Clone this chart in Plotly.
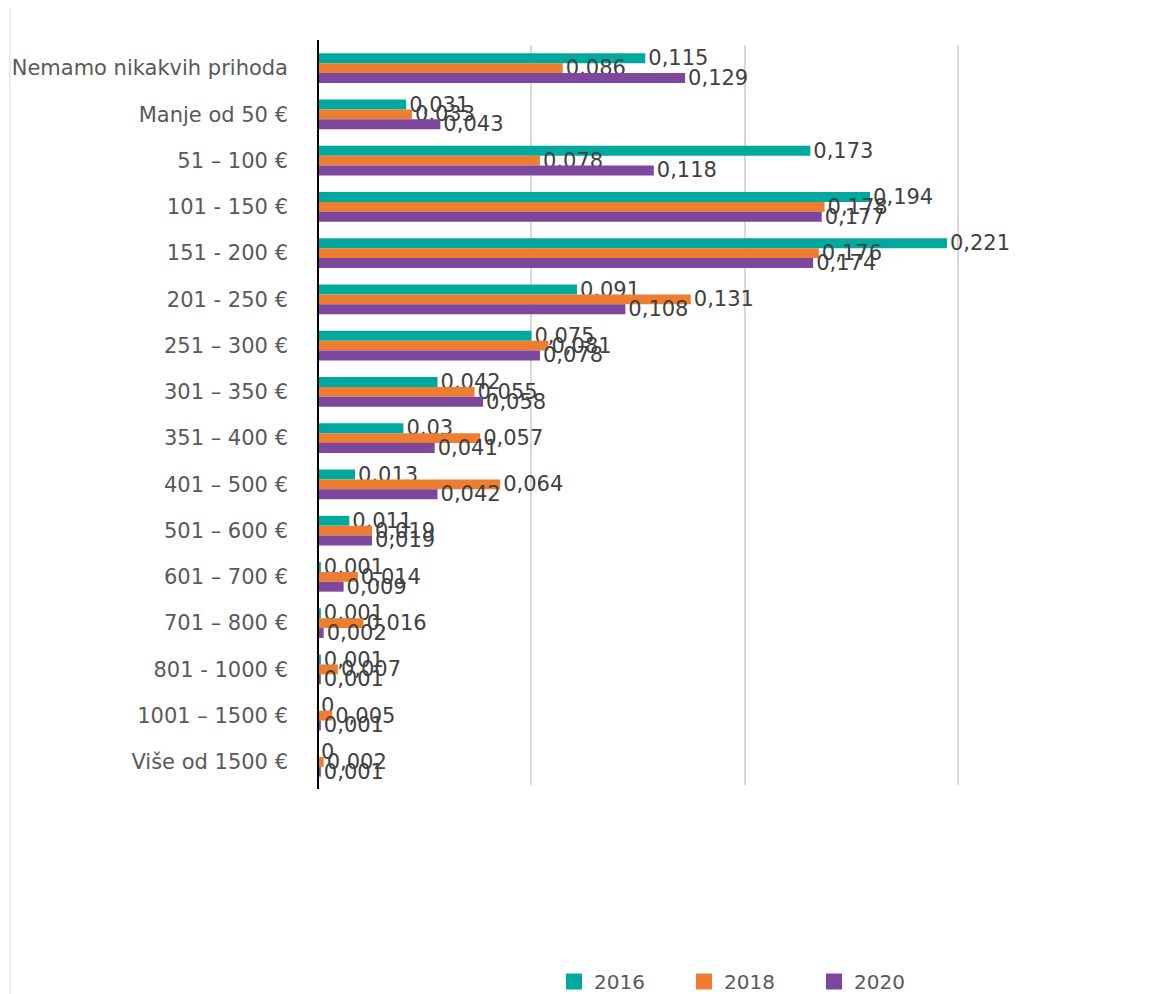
import plotly.graph_objects as go

categories = ["Nemamo nikakvih prihoda", "Manje od 50 €", "51 – 100 €", "101 - 150 €",
              "151 - 200 €", "201 - 250 €", "251 – 300 €", "301 – 350 €", "351 – 400 €",
              "401 – 500 €", "501 – 600 €", "601 – 700 €", "701 – 800 €", "801 - 1000 €",
              "1001 – 1500 €", "Više od 1500 €"]
v2016 = [0.115, 0.031, 0.173, 0.194, 0.221, 0.091, 0.075, 0.042, 0.03, 0.013, 0.011, 0.001, 0.001, 0.001, 0, 0]
v2018 = [0.086, 0.033, 0.078, 0.178, 0.176, 0.131, 0.081, 0.055, 0.057, 0.064, 0.019, 0.014, 0.016, 0.007, 0.005, 0.002]
v2020 = [0.129, 0.043, 0.118, 0.177, 0.174, 0.108, 0.078, 0.058, 0.041, 0.042, 0.019, 0.009, 0.002, 0.001, 0.001, 0.001]
series = [("2016", v2016, "#00A99D"), ("2018", v2018, "#ED7D31"), ("2020", v2020, "#7D479D")]

def fmt(v):
    s = ("%g" % v)
    return s.replace(".", ",")

# page body has an 8px margin; figure coordinates = screen coordinates - 8
W, H = 1152, 986
ml, mt = 310, 37
pw, ph = 683, 740
mr = W - ml - pw
mb = H - mt - ph

fig = go.Figure()
for name, vals, col in series:
    fig.add_trace(go.Bar(
        y=categories, x=vals, name=name, orientation="h",
        marker=dict(color=col, line=dict(width=0)),
        text=[fmt(v) for v in vals], textposition="outside",
        textfont=dict(family="DejaVu Sans", size=21, color="#404040"),
        constraintext="none", cliponaxis=False, showlegend=False,
    ))
# legend entries with larger square swatches
for name, vals, col in series:
    fig.add_trace(go.Scatter(
        x=[None], y=[None], mode="markers", name=name,
        marker=dict(symbol="square", size=16, color=col),
    ))

fig.update_layout(
    width=W, height=H,
    margin=dict(l=ml, r=mr, t=mt, b=mb, autoexpand=False),
    barmode="group", bargap=0.36, bargroupgap=0,
    plot_bgcolor="white", paper_bgcolor="white",
    font=dict(family="DejaVu Sans", color="#595959"),
    xaxis=dict(range=[0, 0.24], dtick=0.075, tick0=0, showticklabels=False,
               showgrid=True, gridcolor="#D9D9D9", gridwidth=2, zeroline=False,
               showline=False),
    yaxis=dict(autorange="reversed", showline=False,
               tickfont=dict(family="DejaVu Sans", size=21, color="#595959"),
               ticks="", ticklabelstandoff=29, showgrid=False),
    legend=dict(orientation="h", x=(546 - ml) / pw, xanchor="left",
                y=(mt + ph - 993) / ph, yanchor="bottom",
                font=dict(family="DejaVu Sans", size=20, color="#595959"),
                entrywidth=85, entrywidthmode="pixels", traceorder="normal"),
    showlegend=True,
)
# vertical category axis line (slightly longer than the category band)
fig.add_shape(type="line", xref="paper", yref="paper", x0=0, x1=0,
              y0=1 + 5 / ph, y1=-4 / ph, line=dict(color="black", width=2))
# light chart-area border at left
fig.add_shape(type="line", xref="paper", yref="paper",
              x0=(2 - ml) / pw, x1=(2 - ml) / pw,
              y0=(mt + ph + 10) / ph, y1=(mt + ph - 986) / ph,
              line=dict(color="#D9D9D9", width=1))

fig.write_html("out.html")
